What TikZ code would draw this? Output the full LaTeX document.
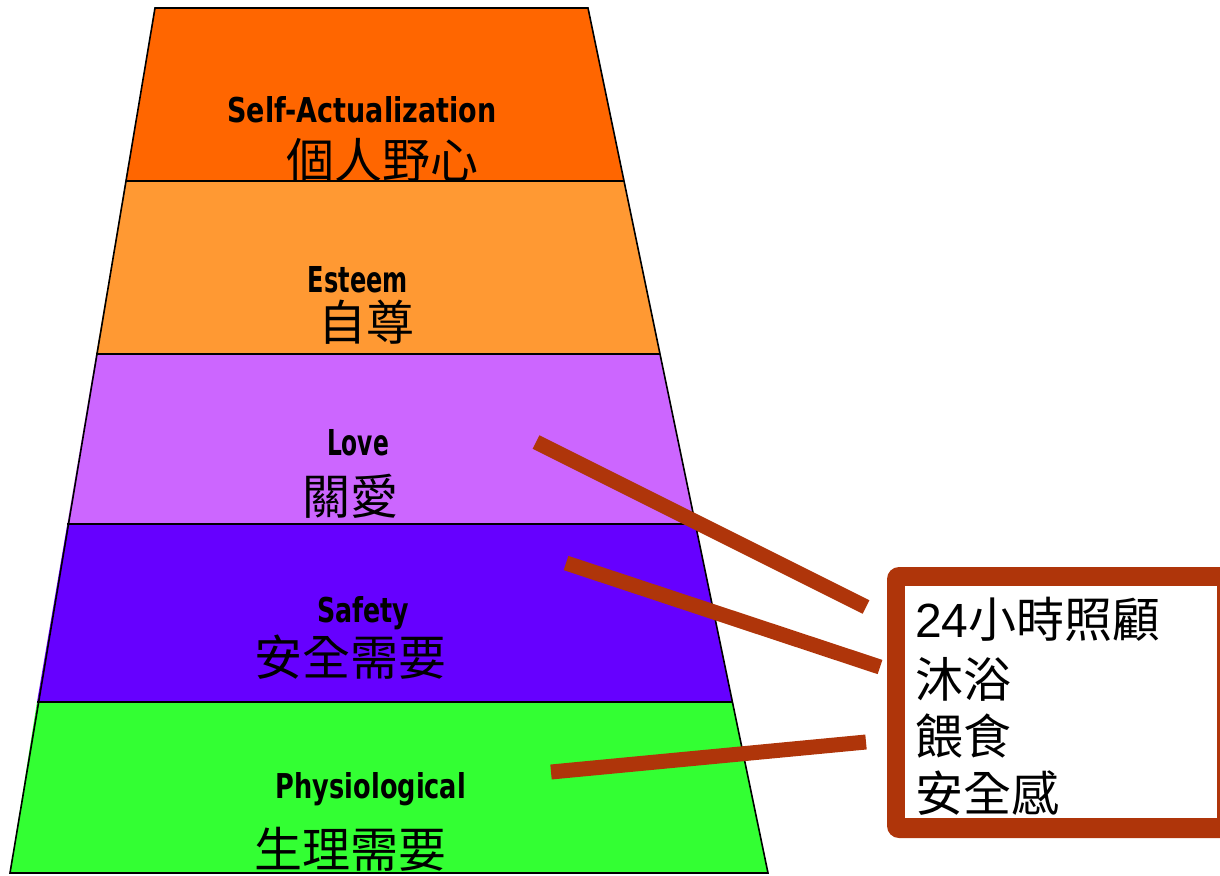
\documentclass[tikz,border=0pt]{standalone}
\usepackage{fontspec}
\setmainfont{Liberation Sans}
\newfontfamily\cjk{Noto Sans CJK TC}
\newfontfamily\pix{DejaVu Sans Condensed}
\usetikzlibrary{calc}
\definecolor{cSelf}{HTML}{FF6600}
\definecolor{cEst}{HTML}{FF9933}
\definecolor{cLove}{HTML}{CC66FF}
\definecolor{cSafe}{HTML}{6600FF}
\definecolor{cPhys}{HTML}{33FF33}
\definecolor{cBrown}{RGB}{175,53,10}
\newcommand{\entext}[2]{\resizebox{#1}{26pt}{\pix\bfseries #2}}
\tikzset{
  band/.style={draw=black, line width=1.6pt, line join=miter},
  entag/.style={anchor=base, inner sep=0pt, text=black},
  zhtag/.style={anchor=center, inner sep=0pt, text=black, font=\cjk\fontsize{48}{56}\selectfont},
  link/.style={draw=cBrown, line width=15pt, line cap=butt},
  boxline/.style={anchor=west, inner sep=0pt, font=\fontsize{48}{56}\selectfont}
}
\begin{document}
\begin{tikzpicture}[x=1pt,y=-1pt]
\useasboundingbox (0,0) rectangle (1220,875);
\clip (0,0) rectangle (1220,875);
% pyramid bands
\fill[cSelf] (155,8) -- (588,8) -- (624,181) -- (125.6,181) -- cycle;
\fill[cEst] (125.6,181) -- (624,181) -- (660,354) -- (96.2,354) -- cycle;
\fill[cLove] (96.2,354) -- (660,354) -- (695.3,524) -- (67.3,524) -- cycle;
\fill[cSafe] (67.3,524) -- (695.3,524) -- (732.4,702) -- (37,702) -- cycle;
\fill[cPhys] (37,702) -- (732.4,702) -- (768,873) -- (10,873) -- cycle;
\draw[band] (155,8) -- (588,8) -- (768,873) -- (10,873) -- cycle;
\draw[band] (125.6,181) -- (624,181);
\draw[band] (96.2,354) -- (660,354);
\draw[band] (67.3,524) -- (695.3,524);
\draw[band] (37,702) -- (732.4,702);
% labels
\node[entag] (tSelf) at (362,122) {\entext{269pt}{Self-Actualization}};
\node[zhtag] (zSelf) at (382,160) {個人野心};
\node[entag] (tEst) at (358,292) {\entext{100pt}{Esteem}};
\node[zhtag] (zEst) at (366,322) {自尊};
\node[entag] (tLove) at (358,455) {\entext{62pt}{Love}};
\node[zhtag] (zLove) at (350,496) {關愛};
\node[entag] (tSafe) at (363,622) {\entext{92pt}{Safety}};
\node[zhtag] (zSafe) at (350,657) {安全需要};
\node[entag] (tPhys) at (371,798) {\entext{190pt}{Physiological}};
\node[zhtag] (zPhys) at (350,849) {生理需要};
% box
\fill[cBrown, rounded corners=12pt] (887,567) rectangle (1240,838);
\fill[white] (905,586) rectangle (1217,818);
\node[boxline] (b1) at (915,619) {24{\cjk 小時照顧}};
\node[boxline] (b2) at (915,679) {\cjk 沐浴};
\node[boxline] (b3) at (915,736) {\cjk 餵食};
\node[boxline] (b4) at (915,793) {\cjk 安全感};
% connectors
\coordinate (sLove) at (536,442);
\coordinate (eLove) at (866,607);
\coordinate (sSafe) at (566,563);
\coordinate (eSafe) at (880,667);
\coordinate (sPhys) at (551,772);
\coordinate (ePhys) at (866,742);
\draw[link] (sLove) -- (eLove);
\draw[link] (sSafe) -- (eSafe);
\draw[link] (sPhys) -- (ePhys);
\end{tikzpicture}
\end{document}
